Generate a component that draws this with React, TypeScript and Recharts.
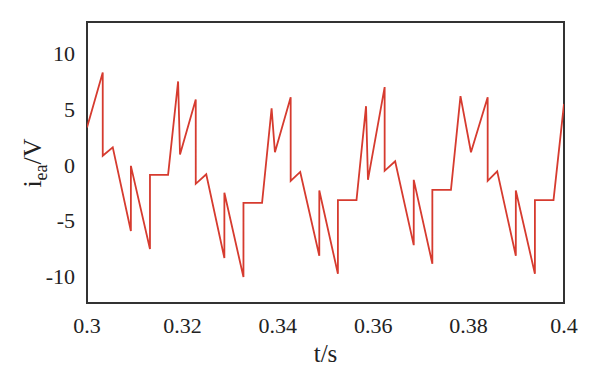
import { LineChart, Line, XAxis, YAxis, ReferenceArea } from "recharts"

// time (s) and voltage samples; repeated times are the vertical jumps
const time = [
  0.3, 0.3033, 0.3033, 0.3054, 0.3092, 0.3092, 0.3132, 0.3132, 0.317, 0.3191,
  0.3195, 0.3228, 0.3228, 0.325, 0.3288, 0.3288, 0.3328, 0.3328, 0.3367, 0.3387,
  0.3394, 0.3427, 0.3427, 0.3447, 0.3487, 0.3487, 0.3526, 0.3526, 0.3565, 0.3585,
  0.3589, 0.3624, 0.3624, 0.3646, 0.3685, 0.3685, 0.3724, 0.3724, 0.3763, 0.3783,
  0.3805, 0.384, 0.384, 0.386, 0.3899, 0.3899, 0.3939, 0.3939, 0.3978, 0.4,
]
const voltage = [
  3.35, 8.31, 0.81, 1.57, -5.97, -0.1, -7.59, -0.91, -0.91, 7.5,
  0.92, 5.88, -1.72, -0.86, -8.4, -2.53, -10.12, -3.44, -3.44, 5.07,
  1.12, 6.08, -1.46, -0.65, -8.2, -2.32, -9.82, -3.18, -3.18, 5.27,
  -1.36, 6.99, -0.55, 0.31, -7.24, -1.36, -8.91, -2.27, -2.27, 6.18,
  1.12, 6.08, -1.46, -0.6, -8.2, -2.32, -9.82, -3.18, -3.18, 5.47,
]
const xTicks = [0.3, 0.32, 0.34, 0.36, 0.38, 0.4]
const yTicks = [-10, -5, 0, 5, 10]
const yDomain = [-12.45, 12.85]

const data = time.map((t, i) => ({ t, v: voltage[i] }))

const font = "Liberation Serif"
const tickStyle = { fontFamily: font, fontSize: 22, fill: "#222" }

const fmtX = (v: number) => String(Number(v.toFixed(2)))

function YTitle(props: any) {
  const vb = props.viewBox
  const x = vb.x + 41
  const y = 163
  return (
    <text
      transform={`rotate(-90, ${x}, ${y})`}
      x={x}
      y={y}
      textAnchor="middle"
      fontFamily={font}
      fontSize={26}
      fill="#222"
    >
      <tspan>i</tspan>
      <tspan fontSize={18} dy={6}>ea</tspan>
      <tspan dy={-6}>/V</tspan>
    </text>
  )
}

function XTitle(props: any) {
  const vb = props.viewBox
  return (
    <text
      x={vb.x + vb.width / 2}
      y={vb.y + 59}
      textAnchor="middle"
      fontFamily={font}
      fontSize={25}
      fill="#222"
    >
      t/s
    </text>
  )
}

export default function App() {
  return (
    <div style={{ position: "absolute", left: 0, top: 0, background: "#fff" }}>
      <LineChart
        width={600}
        height={383}
        data={data}
        margin={{ top: 22, right: 36, bottom: 0, left: 0 }}
      >
        <XAxis
          type="number"
          dataKey="t"
          domain={[0.3, 0.4]}
          ticks={xTicks}
          tickFormatter={fmtX}
          allowDataOverflow
          height={80}
          axisLine={false}
          tickLine={false}
          tickSize={6}
          tickMargin={8}
          tick={tickStyle}
          interval={0}
          label={<XTitle />}
        />
        <YAxis
          type="number"
          domain={yDomain}
          ticks={yTicks}
          allowDataOverflow
          width={87}
          axisLine={false}
          tickLine={false}
          tickSize={6}
          tickMargin={6}
          tick={tickStyle}
          interval={0}
          label={<YTitle />}
        />
        <ReferenceArea
          x1={0.3}
          x2={0.4}
          y1={yDomain[0]}
          y2={yDomain[1]}
          fill="none"
          stroke="#333"
          strokeWidth={2}
        />
        <Line
          type="linear"
          dataKey="v"
          stroke="#d63b2f"
          strokeWidth={1.8}
          dot={false}
          activeDot={false}
          isAnimationActive={false}
        />
      </LineChart>
    </div>
  )
}
